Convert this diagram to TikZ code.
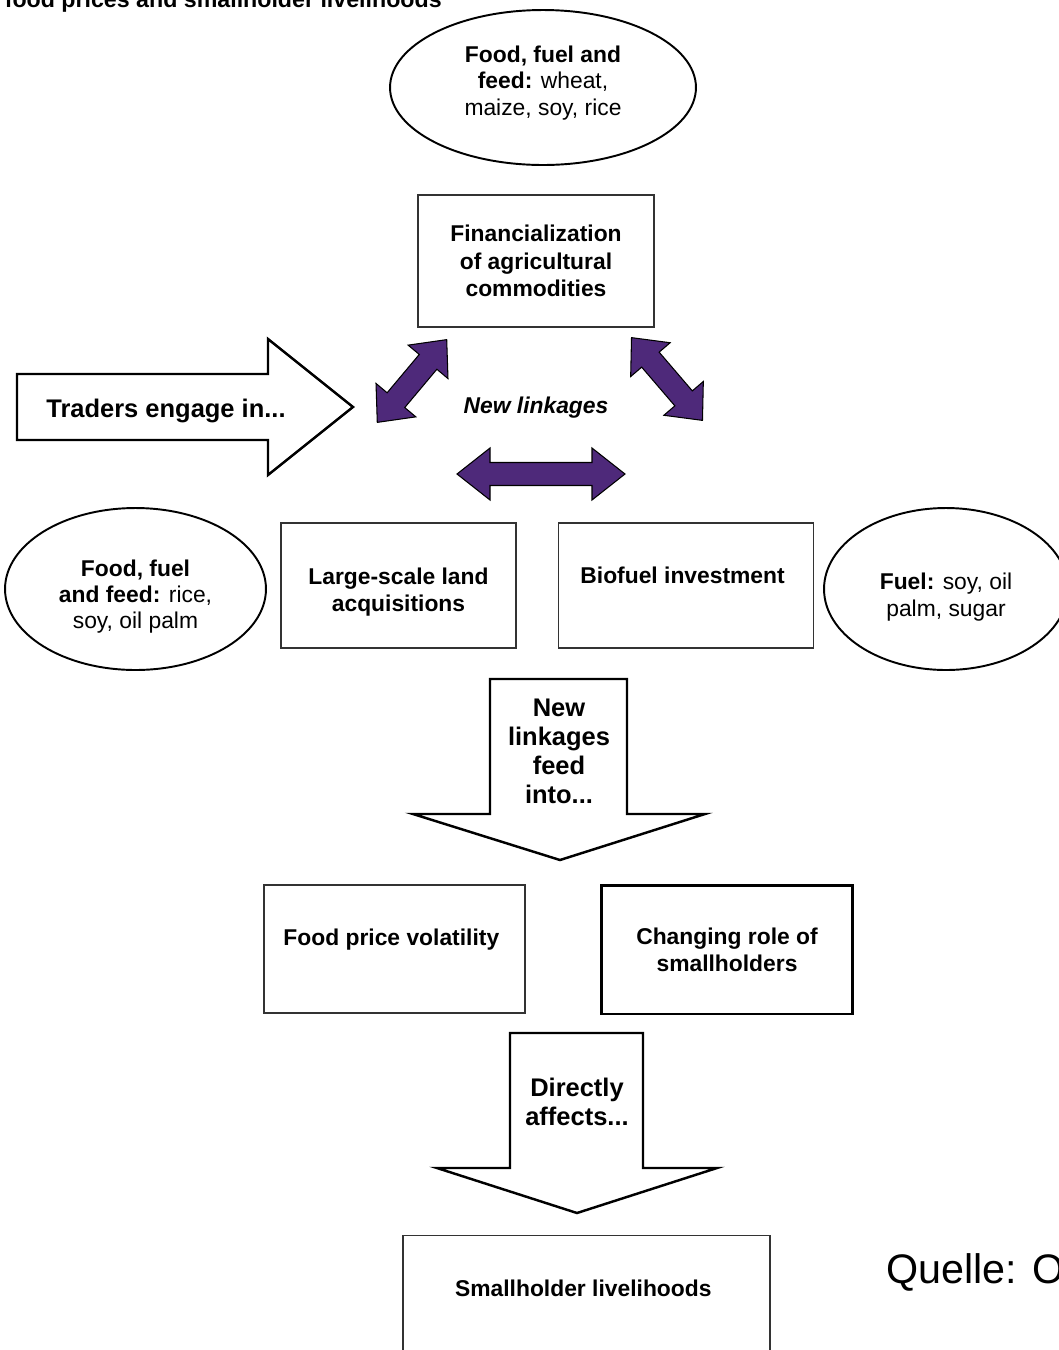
\documentclass[tikz,border=0pt]{standalone}
\usepackage{fontspec}
\setmainfont{Liberation Sans}
\usetikzlibrary{positioning}
\usetikzlibrary{shapes.geometric}
\definecolor{linkpurple}{RGB}{78, 41, 122}
\newcommand{\tpad}[1]{\rule{0pt}{#1}}

\begin{document}
\begin{tikzpicture}[
            x=0.02cm, y=-0.02cm,
            box/.style={
                rectangle,
                draw=black!80,
                line width=0.75pt,
                align=center,
                inner sep=0pt,
                font=\bfseries\fontsize{13}{15.5}\selectfont
            },
            blob/.style={
                ellipse,
                draw,
                line width=1.1pt,
                align=center,
                inner sep=0pt,
                font=\fontsize{13}{15}\selectfont
            },
            bigarrow/.style={draw, line width=1.4pt, fill=white, line join=miter},
            arrowtext/.style={align=center, font=\bfseries\fontsize{14.5}{16.5}\selectfont},
            pics/linkarrow/.style 2 args={
                code={
                    \filldraw[fill=linkpurple, draw=black, line width=0.6pt, line join=miter]
                        (-#1/2,0) -- (-#1/2+#2,26) -- (-#1/2+#2,11.5) -- (#1/2-#2,11.5) -- (#1/2-#2,26)
                        -- (#1/2,0) -- (#1/2-#2,-26) -- (#1/2-#2,-11.5) -- (-#1/2+#2,-11.5) -- (-#1/2+#2,-26) -- cycle;
                }
            }
        ]
            \useasboundingbox (0,0) rectangle (1059,1350);

            % Caption and source
            \node[anchor=base east, inner sep=0pt, font=\bfseries\fontsize{13.2}{15}\selectfont] (caption) at (442,7)
                {food prices and smallholder livelihoods};
            \node[anchor=base west, inner sep=0pt, font=\fontsize{23.5}{28}\selectfont] (source) at (886,1283)
                {Quelle: O};

            % Nodes
            \node[blob, minimum width=6.12cm, minimum height=3.1cm, text depth=7.8pt] (crops) at (543,87.5) {
                \textbf{Food, fuel and}\\\textbf{feed:} wheat,\\maize, soy, rice
            };

            \node[box, minimum width=4.72cm, minimum height=2.64cm] (finance) at (536,261) {
                Financialization\\of agricultural\\commodities
            };

            \node[blob, minimum width=5.22cm, minimum height=3.24cm] (foodcrops) at (135.5,589) {
                \tpad{18pt}\textbf{Food, fuel}\\\textbf{and feed:} rice,\\soy, oil palm
            };

            \node[box, minimum width=4.7cm, minimum height=2.5cm] (land) at (398.5,585.5) {
                \tpad{17pt}Large-scale land\\acquisitions
            };

            \node[box, right=0.82cm of land, minimum width=5.1cm, minimum height=2.5cm, text depth=0.4cm] (biofuel) {
                Biofuel investment
            };

            \node[blob, minimum width=4.88cm, minimum height=3.24cm] (fuelcrops) at (946,589) {
                \tpad{18.5pt}\textbf{Fuel:} soy, oil\\palm, sugar
            };

            \node[box, minimum width=5.22cm, minimum height=2.56cm, text depth=0.46cm] (volatility) at (394.5,949) {
                Food price volatility
            };

            \node[box, line width=1.7pt, draw=black,
                  minimum width=5.04cm, minimum height=2.58cm] (role) at (727,949.5) {
                Changing role of\\smallholders
            };

            \node[box, anchor=north, minimum width=7.34cm, minimum height=2.7cm, text depth=0.58cm] (livelihoods) at (586.5,1235) {
                Smallholder livelihoods
            };

            % Block arrows
            \draw[bigarrow] (17,374) -- (268,374) -- (268,339) -- (353,407) -- (268,475) -- (268,440) -- (17,440) -- cycle;
            \node[arrowtext] (traders) at (166,411) {Traders engage in...};

            \draw[bigarrow] (490,679) -- (627,679) -- (627,814) -- (705,814) -- (560,860) -- (413,814) -- (490,814) -- cycle;
            \node[arrowtext] (feed) at (559,751) {New\\linkages\\feed\\into...};

            \draw[bigarrow] (510,1033) -- (643,1033) -- (643,1168) -- (717,1168) -- (577,1213) -- (437,1168) -- (510,1168) -- cycle;
            \node[arrowtext] (affects) at (577,1102) {Directly\\affects...};

            % Linkage arrows
            \node[font=\bfseries\itshape\fontsize{13}{15}\selectfont] (linkages) at (536,408) {New linkages};
            \pic[rotate=50] at (412,381) {linkarrow={108}{29}};
            \pic[rotate=-49.4] at (667,379) {linkarrow={109}{29}};
            \pic at (541,474) {linkarrow={168}{33}};
        \end{tikzpicture}
\end{document}
